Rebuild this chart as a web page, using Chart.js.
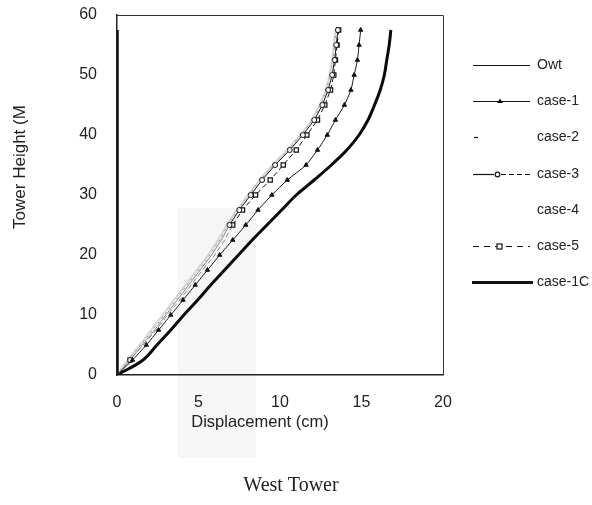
<!DOCTYPE html>
<html>
<head>
<meta charset="utf-8">
<script src="https://cdn.jsdelivr.net/npm/chart.js@4.4.0/dist/chart.umd.min.js"></script>
<style>
  html, body { margin: 0; padding: 0; background: #fff; }
</style>
</head>
<body>
<canvas id="towerChart" width="592" height="505"></canvas>
<script>
// Tower heights (m) where displacements were read, every 2.5 m
const heights = [0, 2.5, 5, 7.5, 10, 12.5, 15, 17.5, 20, 22.5, 25, 27.5, 30, 32.5, 35, 37.5, 40, 42.5, 45, 47.5, 50, 52.5, 55, 57.5];

// Displacements (cm) for each case at those heights
const owtHeights = [0, 57.5];
const owtDisp = [0, 0];
const case1 = [0, 0.95, 1.8, 2.55, 3.3, 4.05, 4.8, 5.55, 6.3, 7.1, 7.9, 8.65, 9.5, 10.45, 11.6, 12.3, 12.9, 13.4, 13.95, 14.35, 14.55, 14.75, 14.85, 14.95];
const case2 = [0, 0.7, 1.45, 2.2, 2.9, 3.6, 4.3, 5.0, 5.7, 6.3, 6.8, 7.4, 8.1, 8.8, 9.6, 10.5, 11.3, 12.0, 12.5, 12.85, 13.1, 13.25, 13.35, 13.45];
const case3 = [0, 0.8, 1.55, 2.3, 3.0, 3.7, 4.4, 5.1, 5.8, 6.4, 6.9, 7.5, 8.2, 8.9, 9.7, 10.6, 11.4, 12.1, 12.6, 12.95, 13.2, 13.35, 13.45, 13.55];
const case4 = [0, 0.65, 1.4, 2.1, 2.8, 3.5, 4.2, 4.9, 5.6, 6.2, 6.75, 7.35, 8.05, 8.75, 9.55, 10.45, 11.25, 11.95, 12.45, 12.8, 13.05, 13.2, 13.3, 13.4];
const case5 = [0, 0.8, 1.6, 2.4, 3.1, 3.85, 4.55, 5.25, 6.0, 6.6, 7.1, 7.7, 8.5, 9.4, 10.2, 11.0, 11.65, 12.3, 12.75, 13.1, 13.3, 13.4, 13.5, 13.6];
const case1C = [0, 1.6, 2.45, 3.3, 4.1, 4.95, 5.75, 6.6, 7.45, 8.3, 9.2, 10.1, 11.0, 12.1, 13.15, 14.1, 14.85, 15.4, 15.8, 16.15, 16.4, 16.55, 16.7, 16.8];

const xTicks = [0, 5, 10, 15, 20];
const yTicks = [0, 10, 20, 30, 40, 50, 60];

const toPoints = (disp, hs) => disp.map((d, i) => ({ x: d, y: hs[i] }));

// markers only show on the upper part of case-3 / case-5 (lower part is faded in the scan)
const upperMarker = r => ctx => (heights[ctx.dataIndex] >= 25 || ctx.dataIndex === 1) ? r : 0;
const fadedSegment = ctx => heights[ctx.p0DataIndex] < 25 ? '#8a8a8a' : '#111';

const sansFont = "'Liberation Sans', Arial, sans-serif";
const serifFont = "'Liberation Serif', 'Times New Roman', serif";

// legend is drawn by hand so each sample looks like the printed one
const legendItems = ['Owt', 'case-1', 'case-2', 'case-3', 'case-4', 'case-5', 'case-1C'];

const sidePlugin = {
    id: 'sideBits',
    beforeDraw(chart) {
        const ctx = chart.ctx;
        ctx.save();
        ctx.fillStyle = '#f6f6f6';   // light scan shading behind the lower curves
        ctx.fillRect(178, 208, 78, 250);
        ctx.restore();
    },
    afterDraw(chart) {
        const ctx = chart.ctx;
        const area = chart.chartArea;
        ctx.save();

        // frame round the plot
        ctx.strokeStyle = '#333';
        ctx.lineWidth = 1;
        ctx.beginPath();
        ctx.moveTo(area.left, area.top + 0.5);
        ctx.lineTo(area.right + 0.5, area.top + 0.5);
        ctx.lineTo(area.right + 0.5, area.bottom);
        ctx.stroke();

        // titles: placed off-centre like the printed figure
        ctx.fillStyle = '#222';
        ctx.textAlign = 'center';
        ctx.textBaseline = 'middle';
        ctx.font = '16.5px ' + sansFont;
        ctx.fillText('Displacement (cm)', 260, 422);
        ctx.font = '20px ' + serifFont;
        ctx.fillText('West Tower', 291, 486);

        ctx.font = '17px ' + sansFont;
        ctx.translate(20, 167);
        ctx.rotate(-Math.PI / 2);
        ctx.fillText('Tower Height (M', 0, 0);
        ctx.setTransform(1, 0, 0, 1, 0, 0);

        // legend
        const x0 = 473, x1 = 530;
        ctx.font = '14px ' + sansFont;
        ctx.textAlign = 'left';
        legendItems.forEach((name, i) => {
            const y = Math.round(65 + i * 36.2) + 0.5;
            ctx.strokeStyle = '#111';
            ctx.fillStyle = '#111';
            ctx.setLineDash([]);
            ctx.lineWidth = 1.2;
            if (name === 'Owt') {
                ctx.beginPath(); ctx.moveTo(x0, y); ctx.lineTo(x1, y); ctx.stroke();
            } else if (name === 'case-1') {
                ctx.beginPath(); ctx.moveTo(x0, y); ctx.lineTo(x1, y); ctx.stroke();
                ctx.beginPath(); ctx.moveTo(500, y - 3); ctx.lineTo(503, y + 1.5); ctx.lineTo(497, y + 1.5); ctx.closePath(); ctx.fill();
            } else if (name === 'case-2') {
                ctx.beginPath(); ctx.moveTo(x0 + 1, y); ctx.lineTo(x0 + 5, y); ctx.stroke();
            } else if (name === 'case-3') {
                ctx.beginPath(); ctx.moveTo(x0, y); ctx.lineTo(494, y); ctx.stroke();
                ctx.setLineDash([5, 3]);
                ctx.beginPath(); ctx.moveTo(501, y); ctx.lineTo(x1, y); ctx.stroke();
                ctx.setLineDash([]);
                ctx.fillStyle = '#fff';
                ctx.beginPath(); ctx.arc(497.5, y, 2.3, 0, Math.PI * 2); ctx.fill(); ctx.stroke();
            } else if (name === 'case-5') {
                ctx.setLineDash([6, 5]);
                ctx.beginPath(); ctx.moveTo(x0, y); ctx.lineTo(x1, y); ctx.stroke();
                ctx.setLineDash([]);
                ctx.fillStyle = '#fff';
                ctx.fillRect(497, y - 2.5, 5, 5); ctx.strokeRect(497, y - 2.5, 5, 5);
            } else if (name === 'case-1C') {
                ctx.lineWidth = 3;
                ctx.beginPath(); ctx.moveTo(x0 - 1, y); ctx.lineTo(x1 + 3, y); ctx.stroke();
            }
            ctx.fillStyle = '#222';
            ctx.fillText(name, 537, y);
        });
        ctx.restore();
    }
};

const ctxTower = document.getElementById('towerChart').getContext('2d');
const towerChart = new Chart(ctxTower, {
    type: 'scatter',
    data: {
        datasets: [
            {
                label: 'Owt',
                data: toPoints(owtDisp, owtHeights),
                showLine: true,
                borderColor: '#111',
                borderWidth: 3.5,
                pointRadius: 0
            },
            {
                label: 'case-1',
                data: toPoints(case1, heights),
                showLine: true,
                borderColor: '#111',
                backgroundColor: '#111',
                borderWidth: 1,
                pointStyle: 'triangle',
                pointRadius: 2.5,
                pointBorderWidth: 1,
                tension: 0.2
            },
            {
                label: 'case-2',
                data: toPoints(case2, heights),
                showLine: true,
                borderColor: '#9a9a9a',
                borderWidth: 1,
                borderDash: [2, 4],
                pointRadius: 0
            },
            {
                label: 'case-3',
                data: toPoints(case3, heights),
                showLine: true,
                borderColor: '#111',
                backgroundColor: '#fff',
                borderWidth: 1,
                pointStyle: 'circle',
                pointRadius: upperMarker(2.5),
                pointBorderWidth: 1,
                segment: { borderColor: fadedSegment }
            },
            {
                label: 'case-4',
                data: toPoints(case4, heights),
                showLine: true,
                borderColor: '#d4d4d4',
                borderWidth: 2,
                pointRadius: 0
            },
            {
                label: 'case-5',
                data: toPoints(case5, heights),
                showLine: true,
                borderColor: '#111',
                backgroundColor: '#fff',
                borderWidth: 1,
                borderDash: [5, 3],
                pointStyle: 'rect',
                pointRadius: upperMarker(3),
                pointBorderWidth: 1.2,
                segment: { borderColor: fadedSegment }
            },
            {
                label: 'case-1C',
                data: toPoints(case1C, heights),
                showLine: true,
                borderColor: '#0a0a0a',
                borderWidth: 3,
                tension: 0.4,
                pointRadius: 0
            }
        ]
    },
    options: {
        responsive: false,
        animation: false,
        layout: { padding: { top: 15, right: 149, left: 0, bottom: 0 } },
        scales: {
            x: {
                type: 'linear',
                min: 0,
                max: 20,
                afterBuildTicks: scale => { scale.ticks = xTicks.map(v => ({ value: v })); },
                afterFit: scale => { scale.height = 130; },
                grid: { display: false, drawTicks: false },
                border: { display: true, color: '#222', width: 1.5 },
                ticks: { padding: 18, color: '#222', font: { family: sansFont, size: 16 } }
            },
            y: {
                type: 'linear',
                min: 0,
                max: 60,
                afterBuildTicks: scale => { scale.ticks = yTicks.map(v => ({ value: v })); },
                // tick padding would otherwise push the plot top down
                afterFit: scale => { scale.width = 117; scale.paddingTop = 9; },
                grid: { display: false, drawTicks: false },
                border: { display: true, color: '#222', width: 1.5 },
                ticks: { padding: 20, color: '#222', font: { family: sansFont, size: 16 } }
            }
        },
        plugins: {
            legend: { display: false },
            tooltip: { enabled: false },
            title: { display: false }
        }
    },
    plugins: [sidePlugin]
});
</script>
</body>
</html>
